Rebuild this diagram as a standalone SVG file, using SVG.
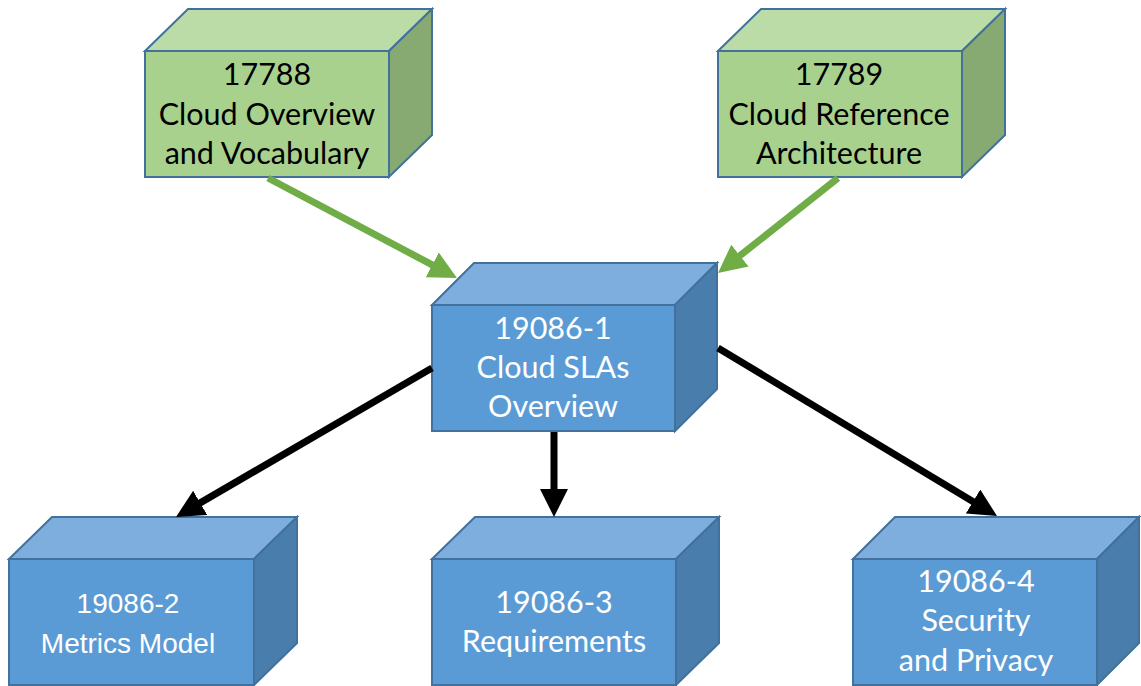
<svg xmlns="http://www.w3.org/2000/svg" width="1141" height="686" viewBox="0 0 1141 686">
<style>
.e{stroke:#41719C;stroke-width:2;stroke-linejoin:miter}
.gf{fill:#A9D18E}.gt{fill:#BBDBA7}.gs{fill:#87AA72}
.bf{fill:#5B9BD5}.bt{fill:#7DAEDE}.bs{fill:#497DAC}
.t{font-family:Lato,"Open Sans","Liberation Sans",sans-serif;font-size:30.5px;text-anchor:middle}
.a{font-family:"Liberation Sans",Arial,sans-serif;font-size:28px;text-anchor:middle}
.k{fill:#000}.w{fill:#fff}
.cg{stroke:#70AD47;stroke-width:7;fill:none}
.cb{stroke:#000;stroke-width:7;fill:none}
</style>
<defs>
<marker id="ag" markerUnits="userSpaceOnUse" markerWidth="30" markerHeight="30" refX="8" refY="14" orient="auto"><path d="M0,0 L28,14 L0,28 z" fill="#70AD47"/></marker>
<marker id="ab" markerUnits="userSpaceOnUse" markerWidth="30" markerHeight="30" refX="8" refY="14" orient="auto"><path d="M0,0 L28,14 L0,28 z" fill="#000"/></marker>
</defs>
<rect width="1141" height="686" fill="#fff"/>

<g id="n17788">
<polygon class="e gt" points="145,51 188,9 432,9 389,51"/>
<polygon class="e gs" points="389,51 432,9 432,135 389,177"/>
<rect class="e gf" x="145" y="51" width="244" height="126"/>
<text class="t k" x="267" y="85">17788</text>
<text class="t k" x="267" y="125">Cloud Overview</text>
<text class="t k" x="267" y="164">and Vocabulary</text>
</g>

<g id="n17789">
<polygon class="e gt" points="718,51 761,9 1005,9 962,51"/>
<polygon class="e gs" points="962,51 1005,9 1005,135 962,177"/>
<rect class="e gf" x="718" y="51" width="244" height="126"/>
<text class="t k" x="839" y="85">17789</text>
<text class="t k" x="839" y="125">Cloud Reference</text>
<text class="t k" x="839" y="164">Architecture</text>
</g>

<g id="n19086-1">
<polygon class="e bt" points="432,305 474,263 717,263 675,305"/>
<polygon class="e bs" points="675,305 717,263 717,389 675,431"/>
<rect class="e bf" x="432" y="305" width="243" height="126"/>
<text class="t w" x="553" y="339">19086-1</text>
<text class="t w" x="553" y="378">Cloud SLAs</text>
<text class="t w" x="553" y="417">Overview</text>
</g>

<g id="n19086-2">
<polygon class="e bt" points="9,559 52,517 297,517 254,559"/>
<polygon class="e bs" points="254,559 297,517 297,643 254,685"/>
<rect class="e bf" x="9" y="559" width="245" height="126"/>
<text class="a w" x="128" y="613">19086-2</text>
<text class="a w" x="128" y="653">Metrics Model</text>
</g>

<g id="n19086-3">
<polygon class="e bt" points="432,559 475,517 719,517 676,559"/>
<polygon class="e bs" points="676,559 719,517 719,643 676,685"/>
<rect class="e bf" x="432" y="559" width="244" height="126"/>
<text class="t w" x="554" y="613">19086-3</text>
<text class="t w" x="554" y="652">Requirements</text>
</g>

<g id="n19086-4">
<polygon class="e bt" points="853,559 895,517 1139,517 1097,559"/>
<polygon class="e bs" points="1097,559 1139,517 1139,643 1097,685"/>
<rect class="e bf" x="853" y="559" width="244" height="126"/>
<text class="t w" x="976" y="592">19086-4</text>
<text class="t w" x="976" y="631">Security</text>
<text class="t w" x="976" y="671">and Privacy</text>
</g>

<g id="connectors">
<line class="cg" x1="268" y1="178" x2="439.3" y2="268.6" marker-end="url(#ag)"/>
<line class="cg" x1="838" y1="178" x2="733.7" y2="260.6" marker-end="url(#ag)"/>
<line class="cb" x1="432" y1="368" x2="193.3" y2="506.9" marker-end="url(#ab)"/>
<line class="cb" x1="554" y1="432" x2="554" y2="497" marker-end="url(#ab)"/>
<line class="cb" x1="718" y1="348" x2="979.9" y2="505.7" marker-end="url(#ab)"/>
</g>
</svg>
